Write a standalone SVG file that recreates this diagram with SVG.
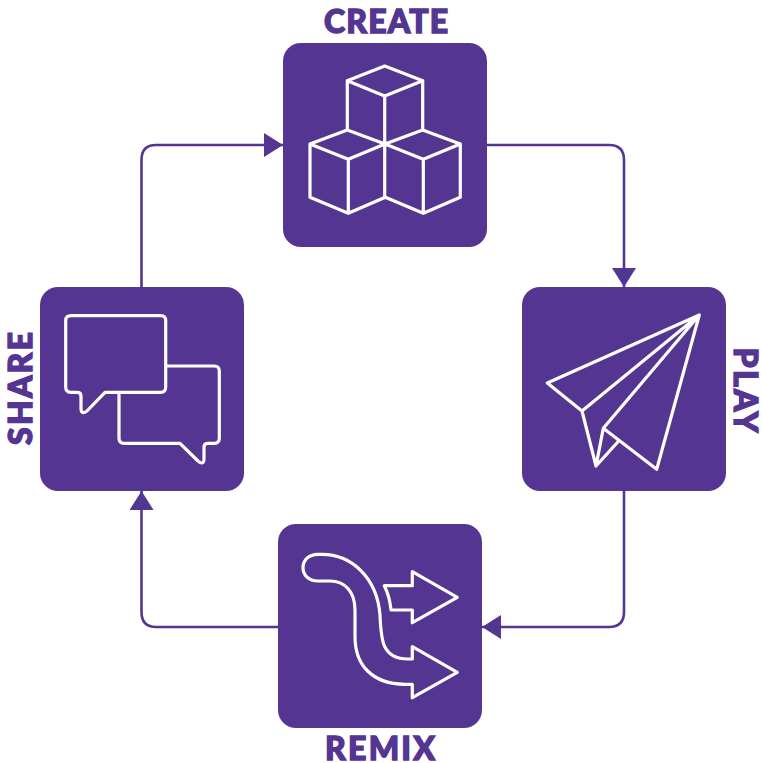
<svg xmlns="http://www.w3.org/2000/svg" width="762" height="763" viewBox="0 0 762 763">
<style>
.box{fill:#553592}
.ico{fill:none;stroke:#fff;stroke-width:3.2;stroke-linejoin:round;stroke-linecap:round}
.con{fill:none;stroke:#553592;stroke-width:2.6}
.lbl{font-family:"Lato","Liberation Sans",sans-serif;font-weight:900;font-size:32px;fill:#553592;stroke:#553592;stroke-width:1.400px;text-anchor:middle}
</style>
<defs>
<marker id="arrow" markerUnits="userSpaceOnUse" markerWidth="20" markerHeight="24" refX="19" refY="12" orient="auto">
<path d="M0 0L19 12L0 24Z" fill="#553592"/>
</marker>
</defs>
<g id="connectors">
<path class="con" marker-end="url(#arrow)" d="M487 145H609Q624 145 624 160V287"/>
<path class="con" marker-end="url(#arrow)" d="M624 491V612Q624 627 609 627H482"/>
<path class="con" marker-end="url(#arrow)" d="M278 627H156Q141.500 627 141.500 612V491"/>
<path class="con" marker-end="url(#arrow)" d="M141.500 287V160Q141.500 145 156 145H283"/>
</g>
<g id="create">
<rect class="box" x="283" y="43" width="204" height="204" rx="18"/>
<path class="ico" d="M384.700 66L347.300 80.700L384.700 96L422.700 80.700ZM347.300 80.700V130M422.700 80.700V130M384.700 96V197.300M310 144L347.300 130L385 144L348.300 159.300ZM310 144V197.300L348.300 213.300L385.300 197.300L423.300 213.300L460.300 197.300V144L422.700 130L385 144L423.300 159.300L460.300 144M348.300 159.300V213.300M423.300 159.300V213.300"/>
<text class="lbl" x="386" y="33" textLength="124" lengthAdjust="spacing">CREATE</text>
</g>
<g id="play">
<rect class="box" x="522" y="287" width="204" height="204" rx="18"/>
<path class="ico" d="M699.300 315L547.300 383L582 411ZM699.300 315L603.300 428.300L656.700 469.300ZM582 411L596 466L603.300 428.300M596 466L618.700 441"/>
<text class="lbl" transform="translate(734 390) rotate(90)" x="0" y="0" textLength="85" lengthAdjust="spacing">PLAY</text>
</g>
<g id="remix">
<rect class="box" x="278" y="524" width="204" height="204" rx="18"/>
<path class="ico" d="M384.300 585.700H412.300V571.700L457.300 597.300L412.300 622.700V610H391C390 600 388 593 384.300 585.700Z"/>
<path class="ico" d="M318 554.300H322C352 554.300 377 578 380 615C381 640 382 659 408 659H412.300V646.700L457.300 672.300L412.300 697.700V684.300H405C372 684 355 665 355 636.700V610C355 592 345 581 330 581H318C298 581 298 554.300 318 554.300Z"/>
<text class="lbl" x="380" y="760" textLength="110" lengthAdjust="spacing">REMIX</text>
</g>
<g id="share">
<rect class="box" x="40" y="287" width="204" height="204" rx="18"/>
<path class="ico" d="M71 315.700H160.700Q165.700 315.700 165.700 320.700V387.300Q165.700 392.300 160.700 392.300H105L87 411Q81.500 415 81 409V396Q81 392.300 77 392.300H71Q65.700 392.300 65.700 387.300V320.700Q65.700 315.700 71 315.700Z"/>
<path class="ico" d="M166.700 366H214.300Q219.300 366 219.300 371V438.300Q219.300 443.300 214.300 443.300H208Q204 443.300 204 447V460Q203 465.500 198 461L180 443.300H124Q119 443.300 119 438.300V393.300"/>
<text class="lbl" transform="translate(32 388.500) rotate(-90)" x="0" y="0" textLength="113" lengthAdjust="spacing">SHARE</text>
</g>
</svg>
